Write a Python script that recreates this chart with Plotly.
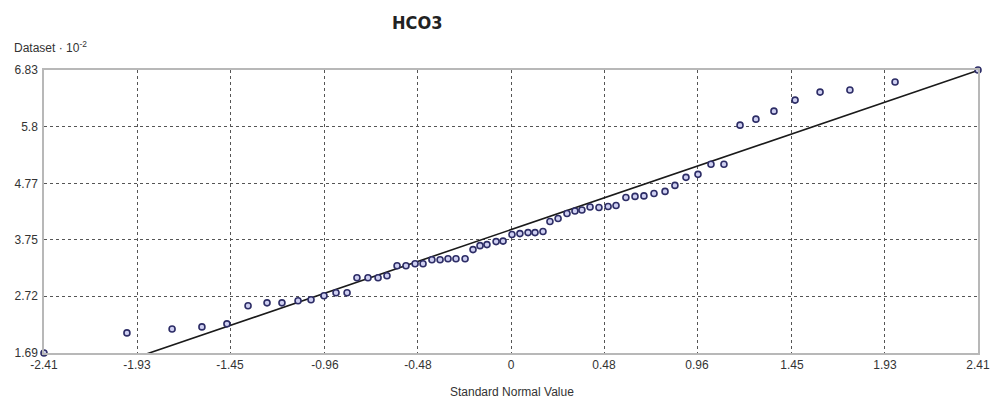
import plotly.graph_objects as go

# Standard normal quantiles (x) and dataset values (x10^-2)
normal_values = [-2.41, -1.982, -1.749, -1.595, -1.466, -1.357, -1.259, -1.182, -1.099, -1.032,
                 -0.965, -0.903, -0.846, -0.795, -0.738, -0.686, -0.640, -0.588, -0.542, -0.495,
                 -0.454, -0.408, -0.366, -0.325, -0.284, -0.237, -0.196, -0.160, -0.124, -0.077,
                 -0.041, 0.005, 0.046, 0.088, 0.124, 0.165, 0.201, 0.243, 0.289, 0.330,
                 0.366, 0.408, 0.454, 0.501, 0.542, 0.593, 0.640, 0.686, 0.738, 0.795,
                 0.846, 0.903, 0.965, 1.032, 1.099, 1.182, 1.264, 1.357, 1.466, 1.595,
                 1.749, 1.982, 2.41]
dataset_values = [1.69, 2.055, 2.127, 2.164, 2.219, 2.547, 2.601, 2.601, 2.638, 2.656,
                  2.729, 2.784, 2.784, 3.057, 3.057, 3.057, 3.094, 3.276, 3.276, 3.312,
                  3.312, 3.385, 3.385, 3.403, 3.403, 3.403, 3.568, 3.640, 3.659, 3.713,
                  3.722, 3.841, 3.859, 3.877, 3.877, 3.896, 4.078, 4.133, 4.224, 4.269,
                  4.287, 4.342, 4.333, 4.351, 4.370, 4.515, 4.534, 4.543, 4.588, 4.625,
                  4.734, 4.880, 4.935, 5.117, 5.117, 5.828, 5.937, 6.083, 6.283, 6.429,
                  6.466, 6.612, 6.83]

# Reference line (y = intercept + slope * x)
line_intercept = 3.93
line_slope = 1.20
line_x = [-2.41, 2.41]
line_y = [line_intercept + line_slope * v for v in line_x]

x_ticks = [-2.41, -1.93, -1.45, -0.96, -0.48, 0, 0.48, 0.96, 1.45, 1.93, 2.41]
x_tick_labels = ["-2.41", "-1.93", "-1.45", "-0.96", "-0.48", "0", "0.48", "0.96", "1.45", "1.93", "2.41"]
y_ticks = [1.69, 2.72, 3.75, 4.77, 5.8, 6.83]
y_tick_labels = ["1.69", "2.72", "3.75", "4.77", "5.8", "6.83"]

FONT = "Liberation Sans, Arial, sans-serif"
W, H = 999, 405
ML, MR, MT, MB = 44, 21, 70, 52

fig = go.Figure()
fig.add_trace(go.Scatter(x=line_x, y=line_y, mode="lines",
                         line=dict(color="#1a1a1a", width=1.6), showlegend=False,
                         hoverinfo="skip"))
fig.add_trace(go.Scatter(x=normal_values, y=dataset_values, mode="markers",
                         marker=dict(symbol="circle", size=6, color="#cfd0f2",
                                     line=dict(color="#2d2d66", width=1.6)),
                         cliponaxis=False, showlegend=False))

pw = W - ML - MR
ph = H - MT - MB


def px_to_paper(px_x, px_y):
    return (px_x - ML) / pw, (H - px_y - MB) / ph


tx, ty = px_to_paper(417, 23)
dx, dy = px_to_paper(12, 47)
sx, sy = px_to_paper(512, 392)

fig.update_layout(
    width=W, height=H,
    margin=dict(l=ML, r=MR, t=MT, b=MB),
    paper_bgcolor="white", plot_bgcolor="white",
    font=dict(family=FONT, size=12, color="#333333"),
    xaxis=dict(range=[-2.41, 2.41], tickvals=x_ticks, ticktext=x_tick_labels,
               showgrid=True, gridcolor="#555555", griddash="dot", gridwidth=1,
               zeroline=False, showline=True, linecolor="#b8b8b8", linewidth=1.5,
               mirror=True, ticks="", automargin=False,
               tickfont=dict(size=12, color="#333333")),
    yaxis=dict(range=[1.69, 6.83], tickvals=y_ticks, ticktext=y_tick_labels,
               showgrid=True, gridcolor="#555555", griddash="dot", gridwidth=1,
               zeroline=False, showline=True, linecolor="#b8b8b8", linewidth=1.5,
               mirror=True, ticks="", ticklabelstandoff=2, automargin=False,
               tickfont=dict(size=12, color="#333333")),
    annotations=[
        dict(text="<b>HCO3</b>", x=tx, y=ty, xref="paper", yref="paper",
             showarrow=False,
             font=dict(family="DejaVu Sans Condensed, Liberation Sans Narrow, Roboto, Arial",
                       size=18, color="#222222"),
             xanchor="center", yanchor="middle"),
        dict(text="Dataset · 10<sup>-2</sup>", x=dx, y=dy, xref="paper", yref="paper",
             showarrow=False, font=dict(size=12, color="#333333"),
             xanchor="left", yanchor="middle"),
        dict(text="Standard Normal Value", x=sx, y=sy, xref="paper", yref="paper",
             showarrow=False, font=dict(size=12, color="#333333"),
             xanchor="center", yanchor="middle"),
    ],
)

fig.write_html("out.html", config={"displayModeBar": False},
               post_script="document.body.style.margin='0px';")
